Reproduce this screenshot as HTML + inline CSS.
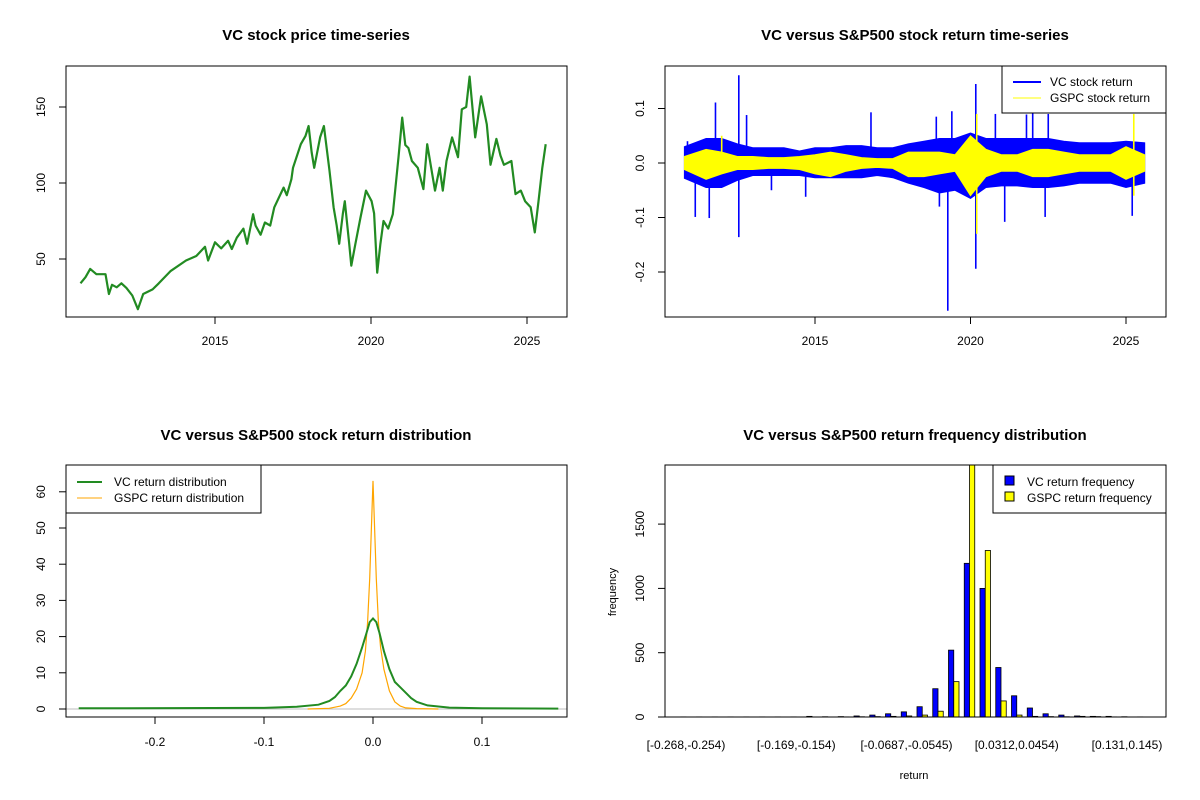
<!DOCTYPE html>
<html><head><meta charset="utf-8"><style>
body{margin:0;background:#fff;}
svg{display:block;font-family:"Liberation Sans",Arial,sans-serif;}
</style></head><body>
<svg id="s" width="1200" height="800" viewBox="0 0 1200 800">
<rect width="1200" height="800" fill="#fff"/>
</svg>
<script>
// ---- Panel 1: price ----
const priceYears=[2010.69,2010.85,2011.0,2011.2,2011.49,2011.6,2011.7,2011.85,2012.0,2012.16,2012.35,2012.53,2012.7,2013.0,2013.2,2013.57,2014.07,2014.4,2014.68,2014.78,2015.0,2015.2,2015.42,2015.54,2015.7,2015.91,2016.03,2016.22,2016.3,2016.46,2016.6,2016.77,2016.9,2017.2,2017.3,2017.45,2017.5,2017.75,2017.9,2018.0,2018.1,2018.18,2018.37,2018.49,2018.67,2018.8,2018.9,2018.98,2019.1,2019.16,2019.3,2019.37,2019.5,2019.66,2019.84,2020.02,2020.1,2020.2,2020.3,2020.4,2020.55,2020.7,2020.88,2021.0,2021.1,2021.2,2021.31,2021.5,2021.68,2021.8,2022.05,2022.2,2022.3,2022.42,2022.6,2022.79,2022.91,2023.05,2023.16,2023.34,2023.53,2023.71,2023.83,2024.02,2024.15,2024.26,2024.5,2024.63,2024.8,2024.94,2025.12,2025.25,2025.37,2025.49,2025.6];
const priceValues=[34,38,43.5,40,40,27,33,31.4,34,31,26,17,27,30,34,42,49,52,58,49,61,57,62,56.6,64,70,60,79.5,72,66,74,72,84,97,92,102.5,110,125.5,131,137.5,120,110,130,137.5,108,84,72,60,80,88,60,45.6,60,77,95,88,80,41,60,75,70,79.5,117,143,125,123,114.5,110,96,125.5,95,110,95,114.5,130,117,148.5,150,170,130,157,138.6,112,129,118,112,114.5,92.7,95,88,84,67.5,88,110,125.5];
const priceTicksX=[2015,2020,2025];
const priceTicksY=[50,100,150];
// ---- Panel 2: returns ----
const retYears=[2010.8,2011.5,2012,2012.5,2013,2013.5,2014,2014.5,2015,2015.5,2016,2016.5,2017,2017.5,2018,2018.5,2019,2019.5,2020,2020.5,2021,2021.5,2022,2022.5,2023,2023.5,2024,2024.5,2025,2025.6];
const vcHi=[0.03,0.045,0.045,0.035,0.028,0.028,0.028,0.022,0.028,0.028,0.032,0.032,0.028,0.028,0.035,0.04,0.045,0.045,0.055,0.045,0.045,0.045,0.045,0.045,0.04,0.037,0.037,0.037,0.04,0.037];
const vcLo=[-0.028,-0.045,-0.045,-0.032,-0.023,-0.023,-0.023,-0.023,-0.027,-0.027,-0.027,-0.027,-0.023,-0.027,-0.037,-0.045,-0.055,-0.05,-0.065,-0.045,-0.042,-0.042,-0.045,-0.045,-0.042,-0.037,-0.037,-0.037,-0.045,-0.037];
const spYears=[2010.9,2012.55,2013.6,2011.8,2011.15,2011.6,2012.8,2019.27,2020.17,2020.17,2019.4,2021.8,2022.4,2025.2,2021.1,2014.7,2016.8,2020.8,2022.0,2018.9,2012.55,2019.0,2022.5];
const spValues=[0.04,0.161,-0.05,0.111,-0.099,-0.101,0.088,-0.271,0.145,-0.194,0.095,0.089,-0.099,-0.097,-0.108,-0.062,0.093,0.09,0.1,0.085,-0.136,-0.08,0.09];
const gsHi=[0.012,0.025,0.02,0.012,0.012,0.01,0.01,0.012,0.015,0.02,0.015,0.01,0.008,0.008,0.02,0.02,0.02,0.015,0.05,0.025,0.015,0.015,0.025,0.025,0.02,0.015,0.015,0.015,0.03,0.015];
const gsLo=[-0.012,-0.03,-0.02,-0.012,-0.012,-0.01,-0.01,-0.012,-0.02,-0.025,-0.015,-0.01,-0.008,-0.01,-0.025,-0.025,-0.02,-0.015,-0.06,-0.025,-0.015,-0.015,-0.025,-0.025,-0.02,-0.015,-0.015,-0.015,-0.03,-0.015];
const gsSpYears=[2020.2,2020.2,2025.25,2025.25,2012.0];
const gsSpValues=[0.09,-0.13,0.09,-0.06,0.05];
const retTicksY=[-0.2,-0.1,0.0,0.1];
// ---- Panel 3: density ----
const vcDx=[-0.27,-0.1,-0.07,-0.05,-0.04,-0.035,-0.03,-0.025,-0.02,-0.015,-0.01,-0.006,-0.003,0,0.003,0.006,0.01,0.015,0.02,0.025,0.03,0.035,0.04,0.05,0.07,0.1,0.17];
const vcDy=[0.2,0.3,0.6,1.2,2.2,3.3,5,6.5,9,12.5,17,21,24,25,24,21,16,11,7.5,6,4.5,3,2,1,0.4,0.2,0.1];
const gsDx=[-0.06,-0.04,-0.03,-0.025,-0.02,-0.015,-0.01,-0.007,-0.005,-0.003,-0.0015,0,0.0015,0.003,0.005,0.007,0.01,0.015,0.02,0.025,0.03,0.04,0.06];
const gsDy=[0,0.2,0.8,1.5,3,5.5,10,16,24,36,50,63,50,36,24,17,11,5,2,0.8,0.3,0.1,0];
const denTicksX=[-0.2,-0.1,0.0,0.1];
const denTicksY=[0,10,20,30,40,50,60];
// ---- Panel 4: histogram ----
const vcFreq=[1,1,1,1,1,1,1,1,5,2,3,8,15,25,40,80,220,520,1195,1000,385,165,70,25,15,8,5,5,2,1];
const gsFreq=[0,0,0,0,0,0,0,0,0,0,1,2,3,5,8,15,45,275,2050,1295,125,15,5,3,2,5,3,1,0,0];
const binLabels=["[-0.268,-0.254)","[-0.169,-0.154)","[-0.0687,-0.0545)","[0.0312,0.0454)","[0.131,0.145)"];
const binLabelIdx=[0,7,14,21,28];
const histTicksY=[0,500,1000,1500];

const NS="http://www.w3.org/2000/svg";
const svg=document.getElementById('s');
function mk(tag,attrs,parent){const e=document.createElementNS(NS,tag);for(const k in attrs)e.setAttribute(k,attrs[k]);(parent||svg).appendChild(e);return e;}
function txt(s,x,y,size,opts,parent){const e=mk('text',Object.assign({x:x,y:y,'font-size':size,'text-anchor':'middle',fill:'#000'},opts||{}),parent);e.textContent=s;return e;}
function panel(name){const g=mk('g',{});return g;}

// Panel 1
{
const g=panel('price-panel');
const X=y=>215+(y-2015)*31.2, Y=v=>259-(v-50)*76/50;
let t=txt('VC stock price time-series',316,40,15,{'font-weight':'bold'},g);
let d=priceYears.map((yy,i)=>(i?'L':'M')+X(yy).toFixed(1)+','+Y(priceValues[i]).toFixed(1)).join('');
let p=mk('path',{d:d,fill:'none',stroke:'#228B22','stroke-width':2.2,'stroke-linejoin':'round'},g);

let b=mk('rect',{x:66,y:66,width:501,height:251,fill:'none',stroke:'#000'},g);
priceTicksX.forEach(v=>{mk('line',{x1:X(v),x2:X(v),y1:317,y2:324,stroke:'#000'},g);let e=txt(String(v),X(v),345,12,{},g);});
priceTicksY.forEach(v=>{mk('line',{x1:59,x2:66,y1:Y(v),y2:Y(v),stroke:'#000'},g);let e=txt(String(v),45,Y(v),12,{transform:`rotate(-90 45 ${Y(v)})`},g);});
}
// Panel 2
{
const g=panel('return-panel');
const X=y=>815+(y-2015)*31.1, Y=v=>163-v*545;
let t=txt('VC versus S&P500 stock return time-series',915,40,15,{'font-weight':'bold'},g);
const env=(hi,lo)=>{let up=retYears.map((yy,i)=>X(yy).toFixed(1)+','+Y(hi[i]).toFixed(1));let dn=retYears.map((yy,i)=>X(yy).toFixed(1)+','+Y(lo[i]).toFixed(1)).reverse();return 'M'+up.join('L')+'L'+dn.join('L')+'Z';};
let a=mk('path',{d:env(vcHi,vcLo),fill:'#0000FF',stroke:'#0000FF','stroke-width':1},g);
spYears.forEach((yy,i)=>{let l=mk('line',{x1:X(yy),x2:X(yy),y1:Y(0),y2:Y(spValues[i]),stroke:'#0000FF','stroke-width':1.6},g);});
let c=mk('path',{d:env(gsHi,gsLo),fill:'#FFFF00',stroke:'#FFFF00','stroke-width':1},g);
gsSpYears.forEach((yy,i)=>{let l=mk('line',{x1:X(yy),x2:X(yy),y1:Y(0),y2:Y(gsSpValues[i]),stroke:'#FFFF00','stroke-width':1.6},g);});
let b=mk('rect',{x:665,y:66,width:501,height:251,fill:'none',stroke:'#000'},g);
priceTicksX.forEach(v=>{mk('line',{x1:X(v),x2:X(v),y1:317,y2:324,stroke:'#000'},g);let e=txt(String(v),X(v),345,12,{},g);});
retTicksY.forEach(v=>{mk('line',{x1:658,x2:665,y1:Y(v),y2:Y(v),stroke:'#000'},g);let e=txt(v.toFixed(1),644,Y(v),12,{transform:`rotate(-90 644 ${Y(v)})`},g);});
const lg=mk('g',{},g);
mk('rect',{x:1002,y:66,width:164,height:47,fill:'#fff',stroke:'#000'},lg);
mk('line',{x1:1013,x2:1041,y1:82,y2:82,stroke:'#0000FF','stroke-width':2},lg);
mk('line',{x1:1013,x2:1041,y1:98,y2:98,stroke:'#FFFF00','stroke-width':1},lg);
txt('VC stock return',1050,86,12,{'text-anchor':'start'},lg);
txt('GSPC stock return',1050,102,12,{'text-anchor':'start'},lg);
}
// Panel 3
{
const g=panel('density-panel');
const X=v=>373+v*1090, Y=d=>709-d*3.62;
let t=txt('VC versus S&P500 stock return distribution',316,440,15,{'font-weight':'bold'},g);
mk('line',{x1:66,x2:567,y1:Y(0),y2:Y(0),stroke:'#bebebe'},g);
let p1=mk('path',{d:gsDx.map((v,i)=>(i?'L':'M')+X(v).toFixed(1)+','+Y(gsDy[i]).toFixed(1)).join(''),fill:'none',stroke:'#FFA500','stroke-width':1.2},g);

let p2=mk('path',{d:vcDx.map((v,i)=>(i?'L':'M')+X(v).toFixed(1)+','+Y(vcDy[i]).toFixed(1)).join(''),fill:'none',stroke:'#228B22','stroke-width':2},g);

let b=mk('rect',{x:66,y:465,width:501,height:252,fill:'none',stroke:'#000'},g);
denTicksX.forEach(v=>{mk('line',{x1:X(v),x2:X(v),y1:717,y2:724,stroke:'#000'},g);let e=txt(v===0?'0.0':String(v),X(v),746,12,{},g);});
denTicksY.forEach(v=>{mk('line',{x1:59,x2:66,y1:Y(v),y2:Y(v),stroke:'#000'},g);let e=txt(String(v),45,Y(v),12,{transform:`rotate(-90 45 ${Y(v)})`},g);});
const lg=mk('g',{},g);
mk('rect',{x:66,y:465,width:195,height:48,fill:'#fff',stroke:'#000'},lg);
mk('line',{x1:77,x2:102,y1:482,y2:482,stroke:'#228B22','stroke-width':2},lg);
mk('line',{x1:77,x2:102,y1:498,y2:498,stroke:'#FFA500','stroke-width':1},lg);
txt('VC return distribution',114,486,12,{'text-anchor':'start'},lg);
txt('GSPC return distribution',114,502,12,{'text-anchor':'start'},lg);
}
// Panel 4
{
const g=panel('histogram-panel');
const C=i=>686+i*15.75, W=5.25, Y=v=>717-v*64.3/500;
let t=txt('VC versus S&P500 return frequency distribution',915,440,15,{'font-weight':'bold'},g);
mk('clipPath',{id:'hc'},g);mk('rect',{x:665,y:465,width:501,height:252},document.getElementById('hc'));
const bars=mk('g',{'clip-path':'url(#hc)'},g);
vcFreq.forEach((v,i)=>{let r=mk('rect',{x:C(i)-W,y:Y(v),width:W,height:Y(0)-Y(v),fill:'#0000FF',stroke:'#000','stroke-width':0.8},bars);});
gsFreq.forEach((v,i)=>{let r=mk('rect',{x:C(i),y:Y(v),width:W,height:Y(0)-Y(v),fill:'#FFFF00',stroke:'#000','stroke-width':0.8},bars);});
let b=mk('rect',{x:665,y:465,width:501,height:252,fill:'none',stroke:'#000'},g);
binLabels.forEach((s,k)=>{let e=txt(s,C(binLabelIdx[k]),749,12,{},g);});
histTicksY.forEach(v=>{mk('line',{x1:658,x2:665,y1:Y(v),y2:Y(v),stroke:'#000'},g);let e=txt(String(v),644,Y(v),12,{transform:`rotate(-90 644 ${Y(v)})`},g);});
let xl=txt('return',914,779,11,{},g);
let yl=txt('frequency',616,592,11,{transform:'rotate(-90 616 592)'},g);
const lg=mk('g',{},g);
mk('rect',{x:993,y:465,width:173,height:48,fill:'#fff',stroke:'#000'},lg);
mk('rect',{x:1005,y:476,width:9,height:9,fill:'#0000FF',stroke:'#000'},lg);
mk('rect',{x:1005,y:492,width:9,height:9,fill:'#FFFF00',stroke:'#000'},lg);
txt('VC return frequency',1027,486,12,{'text-anchor':'start'},lg);
txt('GSPC return frequency',1027,502,12,{'text-anchor':'start'},lg);
}
</script>
</body></html>
